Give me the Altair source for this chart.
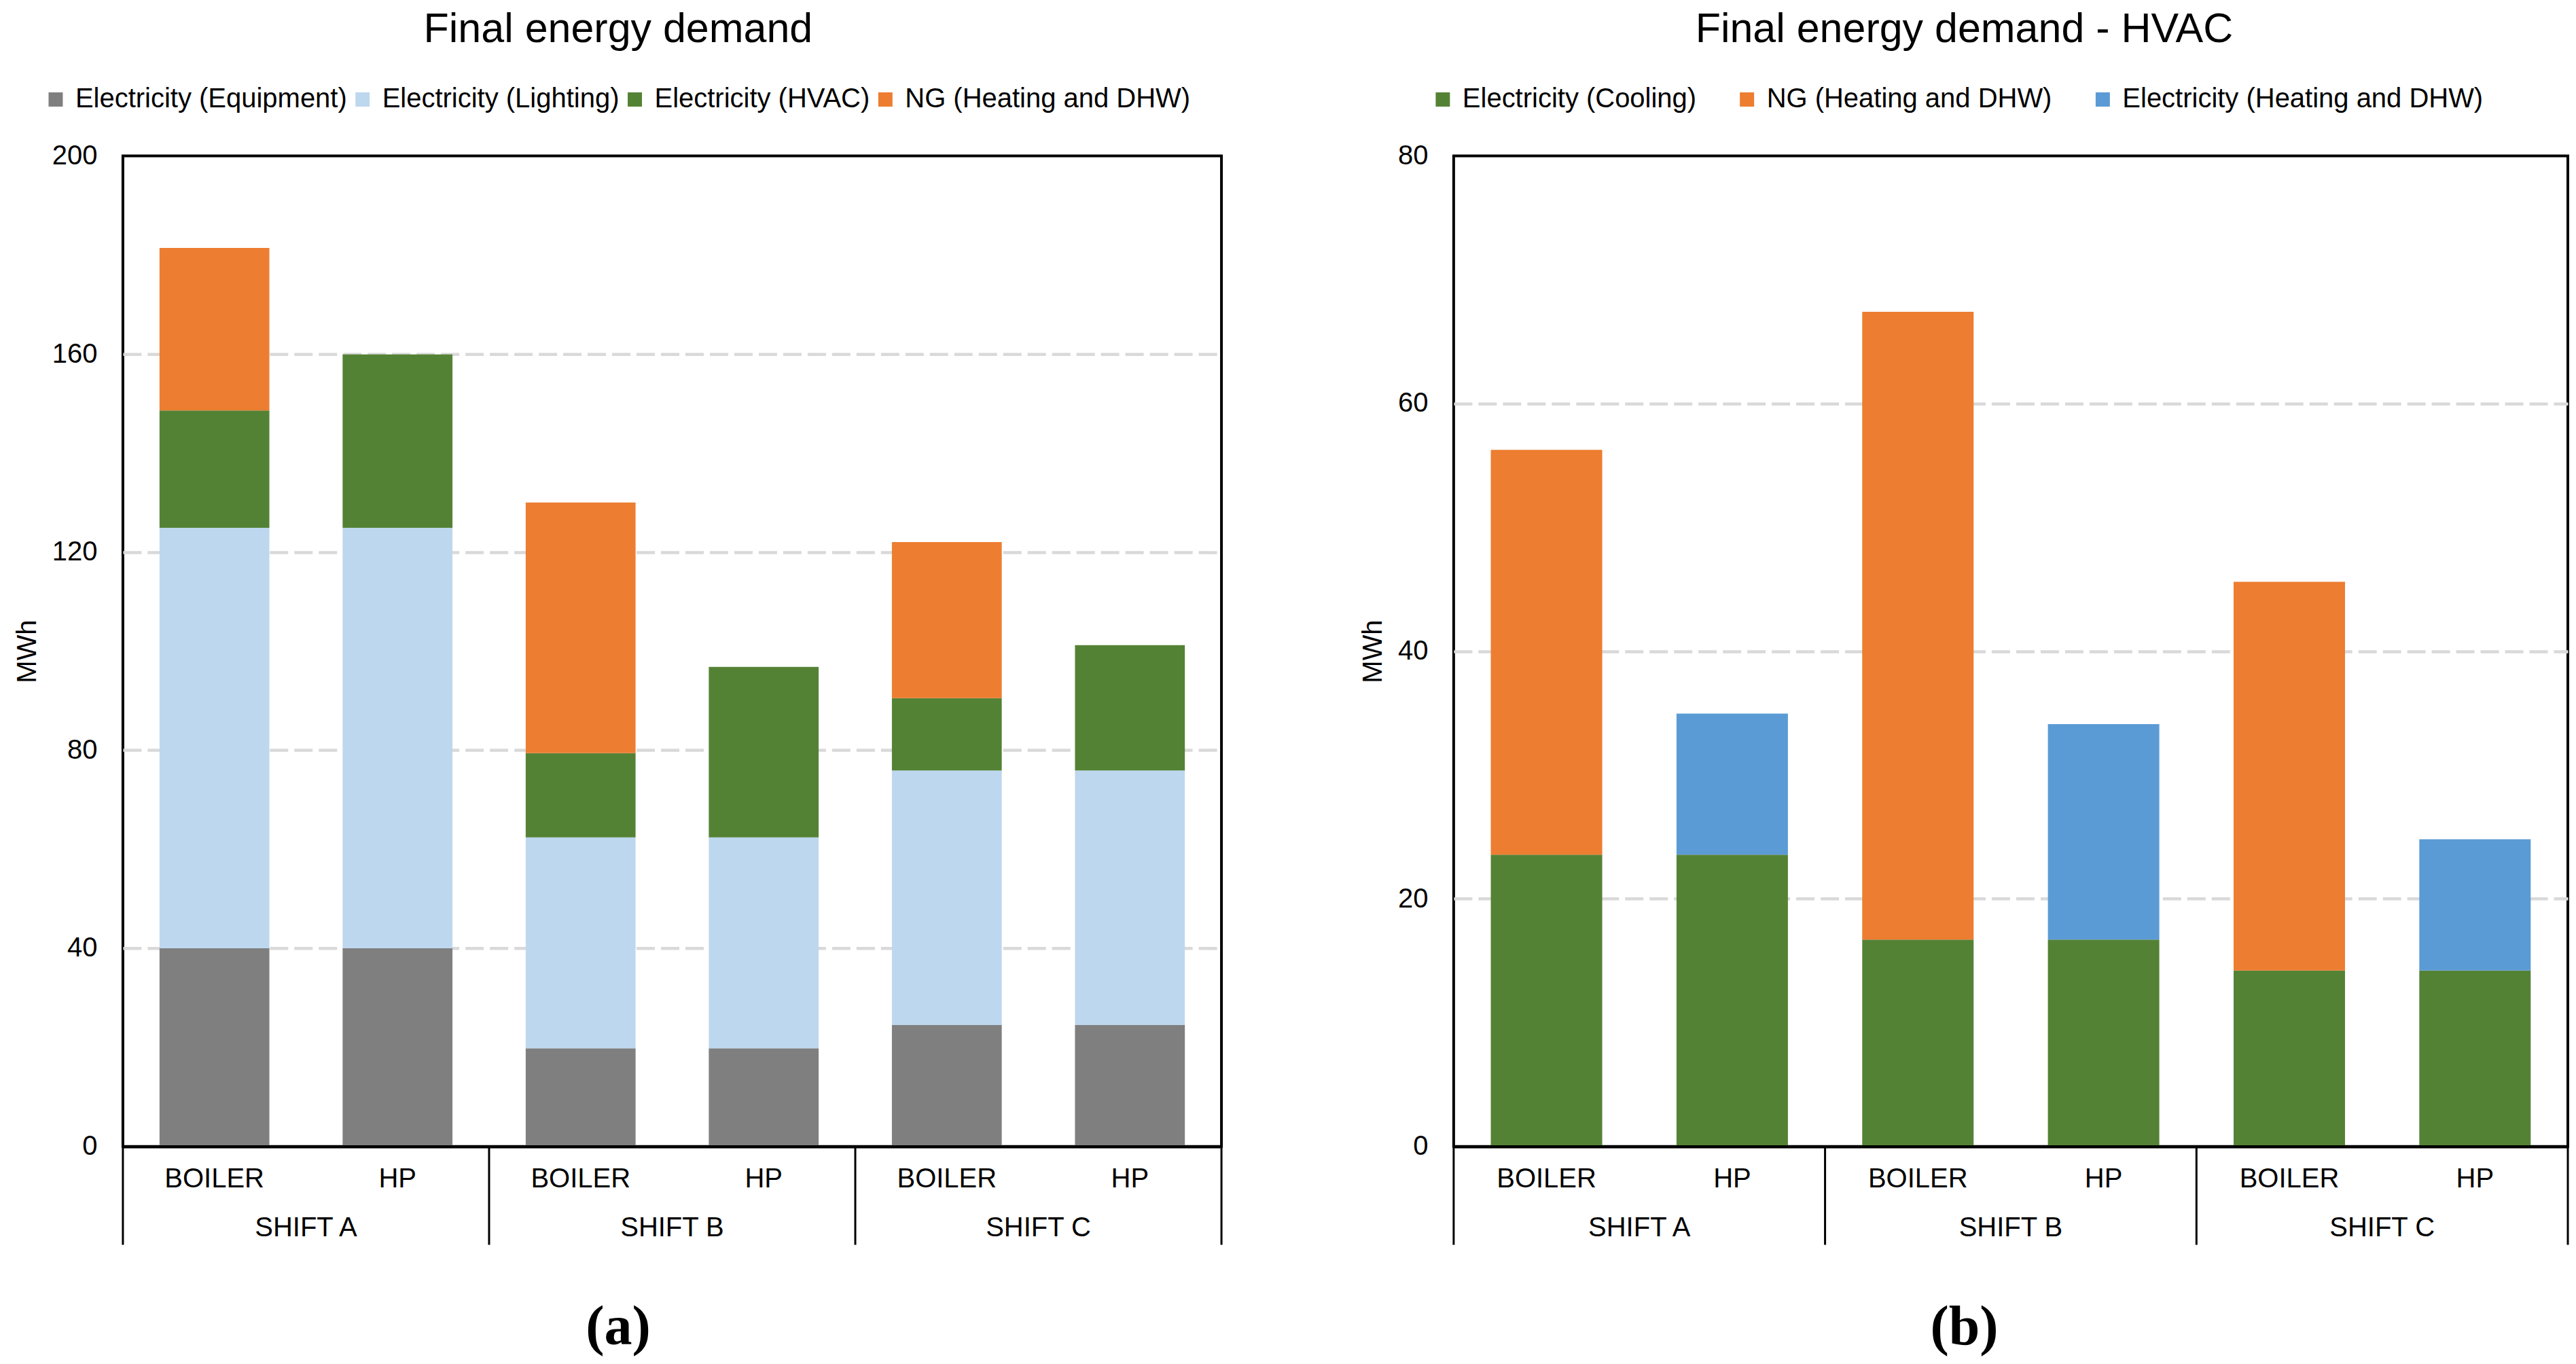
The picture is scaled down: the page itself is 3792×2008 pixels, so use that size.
import altair as alt
import pandas as pd

# ---------------- data ----------------
systems = ["BOILER", "HP", "BOILER", "HP", "BOILER", "HP"]
shifts = ["SHIFT A", "SHIFT A", "SHIFT B", "SHIFT B", "SHIFT C", "SHIFT C"]
shift_names = ["SHIFT A", "SHIFT B", "SHIFT C"]

# panel (a) - Final energy demand
a_series = ["Electricity (Equipment)", "Electricity (Lighting)",
            "Electricity (HVAC)", "NG (Heating and DHW)"]
a_colors = ["#7F7F7F", "#BDD7EE", "#548235", "#ED7D31"]
a_equipment = [40.0, 40.0, 19.8, 19.8, 24.5, 24.5]
a_lighting = [84.9, 84.9, 42.6, 42.6, 51.4, 51.4]
a_hvac = [23.7, 35.0, 17.0, 34.4, 14.6, 25.3]
a_ng = [32.8, 0.0, 50.6, 0.0, 31.5, 0.0]
a_ticks = [0, 40, 80, 120, 160, 200]

# panel (b) - Final energy demand - HVAC
b_series = ["Electricity (Cooling)", "NG (Heating and DHW)",
            "Electricity (Heating and DHW)"]
b_colors = ["#548235", "#ED7D31", "#5B9BD5"]
b_cooling = [23.55, 23.55, 16.7, 16.7, 14.2, 14.2]
b_ng = [32.7, 0.0, 50.7, 0.0, 31.4, 0.0]
b_elec_heat = [0.0, 11.4, 0.0, 17.4, 0.0, 10.6]
b_ticks = [0, 20, 40, 60, 80]

FONT = "Liberation Sans"
cats = [f"{s}|{p}" for s, p in zip(shifts, systems)]


def long_df(series_names, series_values):
    rows = []
    for k, (name, vals) in enumerate(zip(series_names, series_values)):
        for c, v in zip(cats, vals):
            if v > 0:
                rows.append({"cat": c, "series": name, "value": v, "order": k})
    return pd.DataFrame(rows)


def panel(df, series, colors, ticks, W, H, legend_x, col_pad, title, caption):
    ymax = ticks[-1]
    n = len(cats)
    grid_op = {"condition": {"test": f"datum.value <= 0 || datum.value >= {ymax}", "value": 0},
               "value": 1}
    bars = alt.Chart(df).mark_bar().encode(
        x=alt.X("cat:N", sort=cats,
                scale=alt.Scale(paddingInner=0.4, paddingOuter=0.2),
                axis=alt.Axis(title=None, labels=False, ticks=False, grid=False,
                              domain=True, domainColor="black", domainWidth=4.5,
                              zindex=1)),
        y=alt.Y("value:Q", stack="zero",
                scale=alt.Scale(domain=[0, ymax], nice=False),
                axis=alt.Axis(title="MWh", values=ticks, grid=True,
                              gridColor="#D9D9D9", gridDash=[27, 9], gridWidth=4.5,
                              gridOpacity=grid_op, domain=False, ticks=False,
                              labelPadding=38, titlePadding=16,
                              labelFontSize=40, titleFontSize=40,
                              titleFontWeight="normal", labelColor="black",
                              titleColor="black", labelFont=FONT, titleFont=FONT)),
        color=alt.Color("series:N",
                        scale=alt.Scale(domain=series, range=colors),
                        legend=alt.Legend(title=None, orient="none",
                                          legendX=legend_x, legendY=-103,
                                          direction="horizontal",
                                          symbolType="square", symbolSize=440,
                                          symbolStrokeWidth=0, labelFontSize=40,
                                          labelFont=FONT, labelColor="black",
                                          labelOffset=9, columnPadding=col_pad,
                                          padding=0, labelLimit=2000)),
        order=alt.Order("order:Q"),
    )

    sys_df = pd.DataFrame({"pos": [i + 0.5 for i in range(n)], "label": systems})
    grp_df = pd.DataFrame({"pos": [2 * i + 1 for i in range(len(shift_names))],
                           "label": shift_names})
    sep_df = pd.DataFrame({"pos": [2 * i for i in range(len(shift_names) + 1)]})
    xq = alt.X("pos:Q", scale=alt.Scale(domain=[0, n], nice=False, zero=True), axis=None)

    sys_text = alt.Chart(sys_df).mark_text(
        fontSize=40, font=FONT, baseline="middle", color="black"
    ).encode(x=xq, y=alt.value(H + 48), text="label:N")
    grp_text = alt.Chart(grp_df).mark_text(
        fontSize=40, font=FONT, baseline="middle", color="black"
    ).encode(x=xq, y=alt.value(H + 120), text="label:N")
    seps = alt.Chart(sep_df).mark_rule(color="black", strokeWidth=3).encode(
        x=xq, y=alt.value(H), y2=alt.value(H + 145))

    layered = alt.layer(bars, sys_text, grp_text, seps).resolve_scale(
        x="independent"
    ).properties(
        width=W, height=H,
        title=alt.Title(caption, orient="bottom", font="Liberation Serif",
                        fontSize=82, fontWeight="bold", color="black",
                        anchor="middle", frame="bounds", offset=80),
    )
    return alt.vconcat(
        layered,
        title=alt.Title(title, fontSize=61, font=FONT, fontWeight="normal",
                        color="black", anchor="middle", offset=51),
    )


df_a = long_df(a_series, [a_equipment, a_lighting, a_hvac, a_ng])
df_b = long_df(b_series, [b_cooling, b_ng, b_elec_heat])

pa = panel(df_a, a_series, a_colors, a_ticks, 1618, 1459, -119, 2,
           "Final energy demand", "(a)")
pb = panel(df_b, b_series, b_colors, b_ticks, 1641, 1459, -36, 54,
           "Final energy demand - HVAC", "(b)")

chart = alt.hconcat(pa, pb, spacing=197).resolve_scale(
    color="independent"
).properties(
    padding={"left": 10, "top": 5, "right": 0, "bottom": 0}
).configure(font=FONT).configure_view(stroke="black", strokeWidth=4)

chart.save("out.html", embed_options={"renderer": "svg", "actions": False})
